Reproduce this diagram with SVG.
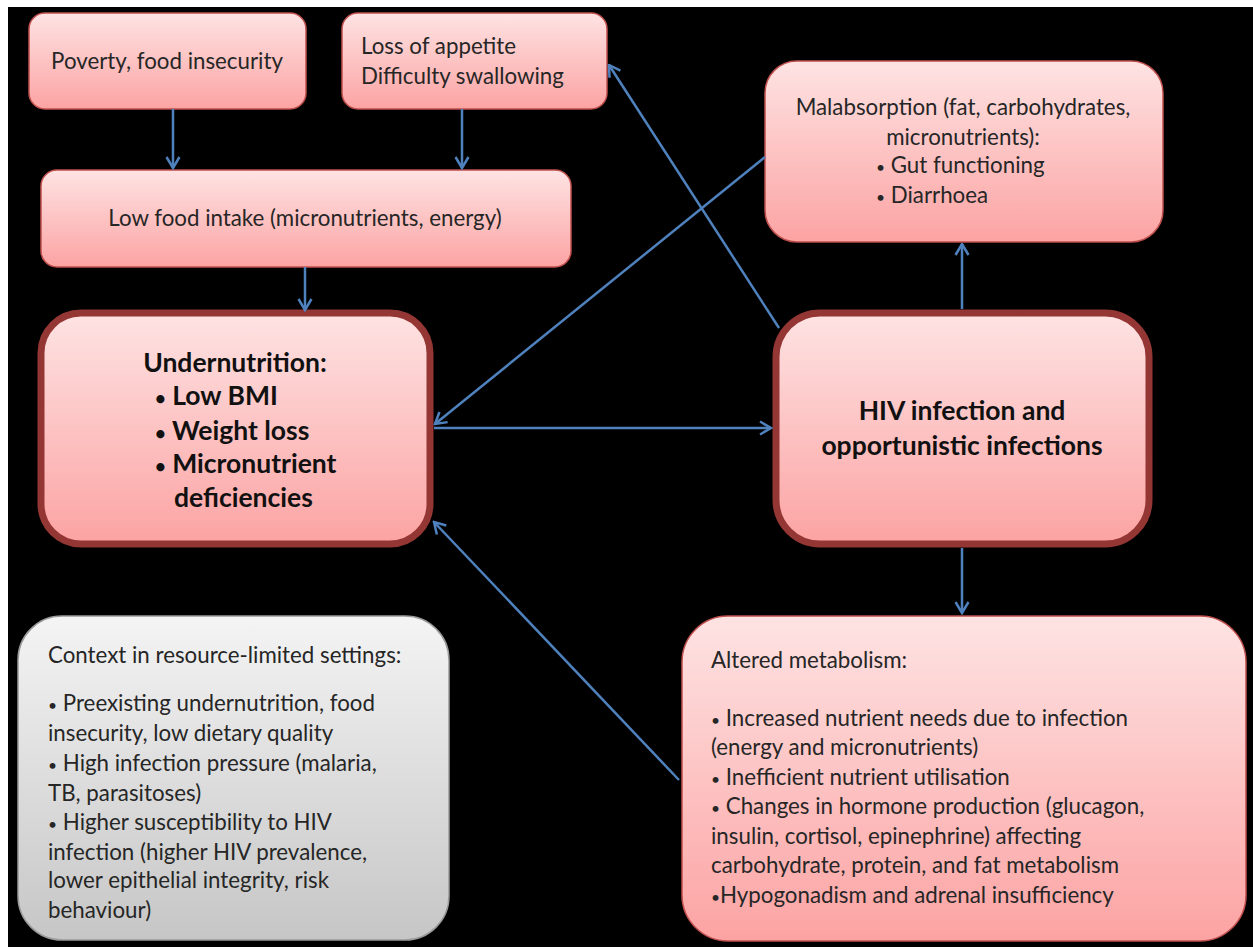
<svg xmlns="http://www.w3.org/2000/svg" width="1253" height="949" viewBox="0 0 1253 949">
<defs>
<linearGradient id="pink" x1="0" y1="0" x2="0" y2="1">
<stop offset="0" stop-color="#fee3e3"/>
<stop offset="1" stop-color="#fca3a3"/>
</linearGradient>
<linearGradient id="gray" x1="0" y1="0" x2="0" y2="1">
<stop offset="0" stop-color="#f4f4f4"/>
<stop offset="1" stop-color="#c6c6c6"/>
</linearGradient>
<marker id="arr" markerUnits="userSpaceOnUse" viewBox="0 0 14 16" refX="12.5" refY="8" markerWidth="14" markerHeight="16" orient="auto">
<path d="M1.5,1.5 L12.5,8 L1.5,14.5" fill="none" stroke="#4f81bd" stroke-width="2.5" stroke-linejoin="miter"/>
</marker>
</defs>
<style>
.bx{fill:url(#pink);stroke:#c0504d;stroke-width:1.5}
.main{fill:url(#pink);stroke:#943634;stroke-width:7}
.gr{fill:url(#gray);stroke:#9a9a9a;stroke-width:1.5}
.t{font-family:Lato,"Liberation Sans",sans-serif;font-size:22.3px;fill:#262626}
.b{font-family:Lato,"Liberation Sans",sans-serif;font-size:26.5px;font-weight:bold;fill:#111}
.c{text-anchor:middle}
.bu{font-size:0.7em}
.ln{stroke:#4f81bd;stroke-width:2.5;fill:none;marker-end:url(#arr)}
</style>
<rect x="0" y="0" width="1253" height="949" fill="#fff"/>
<rect x="8" y="7" width="1245" height="940" fill="#000"/>

<g id="poverty">
<rect class="bx" x="29" y="13" width="277" height="96" rx="16"/>
<text class="t c" x="167" y="69">Poverty, food insecurity</text>
</g>
<g id="appetite">
<rect class="bx" x="342" y="13" width="265" height="96" rx="16"/>
<text class="t" x="361" y="54">Loss of appetite</text>
<text class="t" x="361" y="84">Difficulty swallowing</text>
</g>
<g id="lowfood">
<rect class="bx" x="41" y="170" width="530" height="97" rx="16"/>
<text class="t c" x="305" y="226">Low food intake (micronutrients, energy)</text>
</g>
<g id="malabsorption">
<rect class="bx" x="765" y="61" width="398" height="181" rx="32"/>
<text class="t c" x="963" y="115">Malabsorption (fat, carbohydrates,</text>
<text class="t c" x="963" y="145">micronutrients):</text>
<text class="t" x="876" y="173"><tspan class="bu">•</tspan> Gut functioning</text>
<text class="t" x="876" y="203"><tspan class="bu">•</tspan> Diarrhoea</text>
</g>
<g id="undernutrition">
<rect class="main" x="41" y="313" width="389" height="231" rx="40"/>
<text class="b c" x="235" y="372">Undernutrition:</text>
<text class="b" x="155" y="405"><tspan class="bu">•</tspan> Low BMI</text>
<text class="b" x="155" y="440"><tspan class="bu">•</tspan> Weight loss</text>
<text class="b" x="155" y="473"><tspan class="bu">•</tspan> Micronutrient</text>
<text class="b" x="174" y="507">deficiencies</text>
</g>
<g id="hiv">
<rect class="main" x="776" y="313" width="373" height="231" rx="44"/>
<text class="b c" x="962" y="420">HIV infection and</text>
<text class="b c" x="962" y="455">opportunistic infections</text>
</g>
<g id="context">
<rect class="gr" x="18" y="616" width="431" height="324" rx="44"/>
<text class="t" x="48" y="663">Context in resource-limited settings:</text>
<text class="t" x="48" y="711"><tspan class="bu">•</tspan> Preexisting undernutrition, food</text>
<text class="t" x="48" y="741">insecurity, low dietary quality</text>
<text class="t" x="48" y="771"><tspan class="bu">•</tspan> High infection pressure (malaria,</text>
<text class="t" x="48" y="801">TB, parasitoses)</text>
<text class="t" x="48" y="830"><tspan class="bu">•</tspan> Higher susceptibility to HIV</text>
<text class="t" x="48" y="860">infection (higher HIV prevalence,</text>
<text class="t" x="48" y="888">lower epithelial integrity, risk</text>
<text class="t" x="48" y="918">behaviour)</text>
</g>
<g id="altered">
<rect class="bx" x="682" y="616" width="564" height="325" rx="46"/>
<text class="t" x="711" y="668">Altered metabolism:</text>
<text class="t" x="711" y="726"><tspan class="bu">•</tspan> Increased nutrient needs due to infection</text>
<text class="t" x="711" y="755">(energy and micronutrients)</text>
<text class="t" x="711" y="785"><tspan class="bu">•</tspan> Inefficient nutrient utilisation</text>
<text class="t" x="711" y="814"><tspan class="bu">•</tspan> Changes in hormone production (glucagon,</text>
<text class="t" x="711" y="844">insulin, cortisol, epinephrine) affecting</text>
<text class="t" x="711" y="873">carbohydrate, protein, and fat metabolism</text>
<text class="t" x="711" y="903"><tspan class="bu">•</tspan>Hypogonadism and adrenal insufficiency</text>
</g>

<g id="connectors">
<line class="ln" x1="173" y1="109" x2="173" y2="168"/>
<line class="ln" x1="462" y1="109" x2="462" y2="168"/>
<line class="ln" x1="305" y1="267" x2="305" y2="310"/>
<line class="ln" x1="765" y1="157" x2="435" y2="424"/>
<line class="ln" x1="779" y1="328" x2="609" y2="65"/>
<line class="ln" x1="434" y1="428" x2="771" y2="428"/>
<line class="ln" x1="962" y1="309" x2="962" y2="244"/>
<line class="ln" x1="962" y1="548" x2="962" y2="613"/>
<line class="ln" x1="679" y1="780" x2="434" y2="522"/>
</g>
</svg>
